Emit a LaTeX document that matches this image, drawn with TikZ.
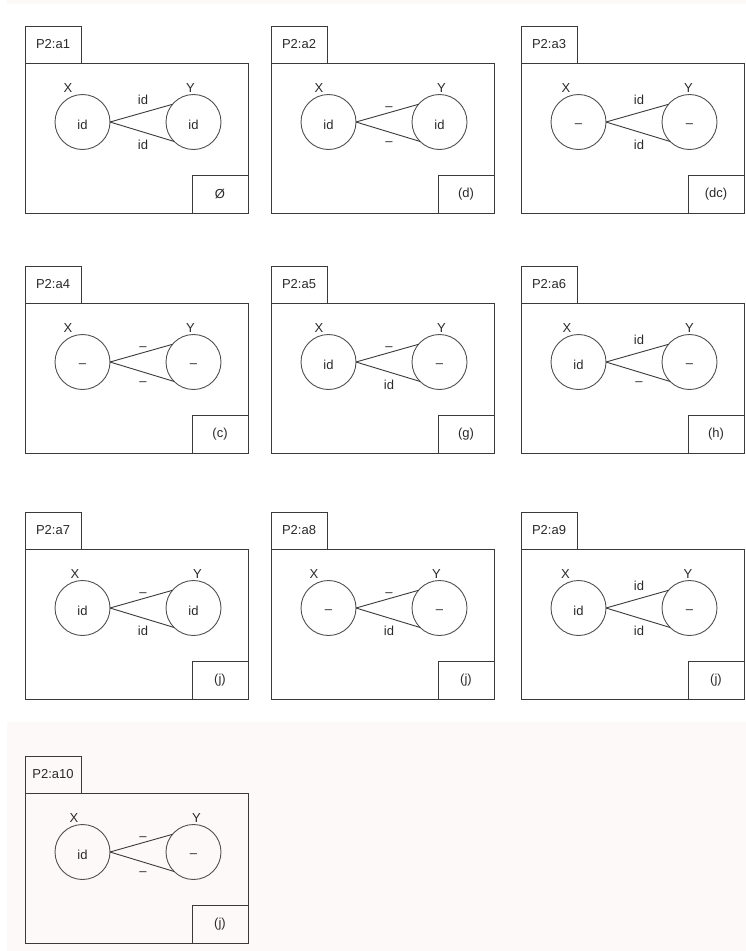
\documentclass[tikz,border=0pt]{standalone}
\usepackage{fontspec}
\setmainfont{Liberation Sans}
\definecolor{bgpink}{HTML}{FDF9F8}
\definecolor{lncol}{HTML}{3A3A3A}
\definecolor{circol}{HTML}{505050}
\definecolor{txtcol}{HTML}{2A2A2A}
\newcommand\dU{\raisebox{-6.1pt}{–}}
\newcommand\dL{\raisebox{3.9pt}{–}}
\newcommand\dC{\raisebox{2.1pt}{–}}
\tikzset{
  lbl/.style={inner sep=0pt, outer sep=0pt, text=txtcol, font=\fontsize{13}{15}\selectfont},
  tabbox/.style={draw=lncol, line width=0.9pt, minimum width=56pt, minimum height=37pt, inner sep=0pt, outer sep=0pt, text=txtcol, font=\fontsize{13}{15}\selectfont},
  framebox/.style={draw=lncol, line width=0.9pt, minimum width=223pt, minimum height=150pt, inner sep=0pt, outer sep=0pt},
  innerbox/.style={draw=lncol, line width=0.9pt, minimum width=56pt, minimum height=38pt, inner sep=0pt, outer sep=0pt, text=txtcol, font=\fontsize{13}{15}\selectfont},
  circ/.style={circle, draw=circol, line width=0.9pt, minimum size=55pt, inner sep=0pt, outer sep=0pt},
  edge/.style={draw=lncol, line width=0.9pt}
}
% #1 x, #2 y, #3 id, #4 label shift, #5 X text, #6 Y text, #7 upper, #8 lower, #9 box
\newcommand\panel[9]{%
\begin{scope}[shift={(#1,#2)}]
  \node[framebox, anchor=north west] (f#3) at (0,0) {};
  \node[tabbox, anchor=south west] (t#3) at (0,0) {P2:#3};
  \node[innerbox, anchor=south east] (b#3) at (f#3.south east) {#9};
  \node[circ] (x#3) at (57.5,59) {};
  \node[circ] (y#3) at (168.5,59) {};
  \node[lbl] (xl#3) at (43+#4,25) {X};
  \node[lbl] (yl#3) at (165.5+#4,25) {Y};
  \node[lbl, anchor=base] (xi#3) at (57.5,66.5) {#5};
  \node[lbl, anchor=base] (yi#3) at (168.5,66.5) {#6};
  \draw[edge] (x#3.east) -- (y#3.140);
  \draw[edge] (x#3.east) -- (y#3.225);
  \node[lbl, anchor=base] (u#3) at (118,41) {#7};
  \node[lbl, anchor=base] (l#3) at (118,86) {#8};
\end{scope}}
\begin{document}
\begin{tikzpicture}[x=1pt,y=-1pt]
\useasboundingbox (0,0) rectangle (746,951);
\fill[white] (0,0) rectangle (746,951);
\fill[bgpink] (7,722) rectangle (746,951);
\fill[bgpink] (7,0) rectangle (746,4);
\panel{25}{63}{a1}{0}{id}{id}{id}{id}{Ø}
\panel{271}{63}{a2}{5}{id}{id}{\dU}{\dL}{(d)}
\panel{521}{63}{a3}{2}{\dC}{\dC}{id}{id}{(dc)}
\panel{25}{303}{a4}{0}{\dC}{\dC}{\dU}{\dL}{(c)}
\panel{271}{303}{a5}{5}{id}{\dC}{\dU}{id}{(g)}
\panel{521}{303}{a6}{3}{id}{\dC}{id}{\dL}{(h)}
\panel{25}{549}{a7}{7}{id}{id}{\dU}{id}{(j)}
\panel{271}{549}{a8}{0}{\dC}{\dC}{\dU}{id}{(j)}
\panel{521}{549}{a9}{1.5}{id}{\dC}{id}{id}{(j)}
\panel{25}{793}{a10}{6}{id}{\dC}{\dU}{\dL}{(j)}
\end{tikzpicture}
\end{document}
